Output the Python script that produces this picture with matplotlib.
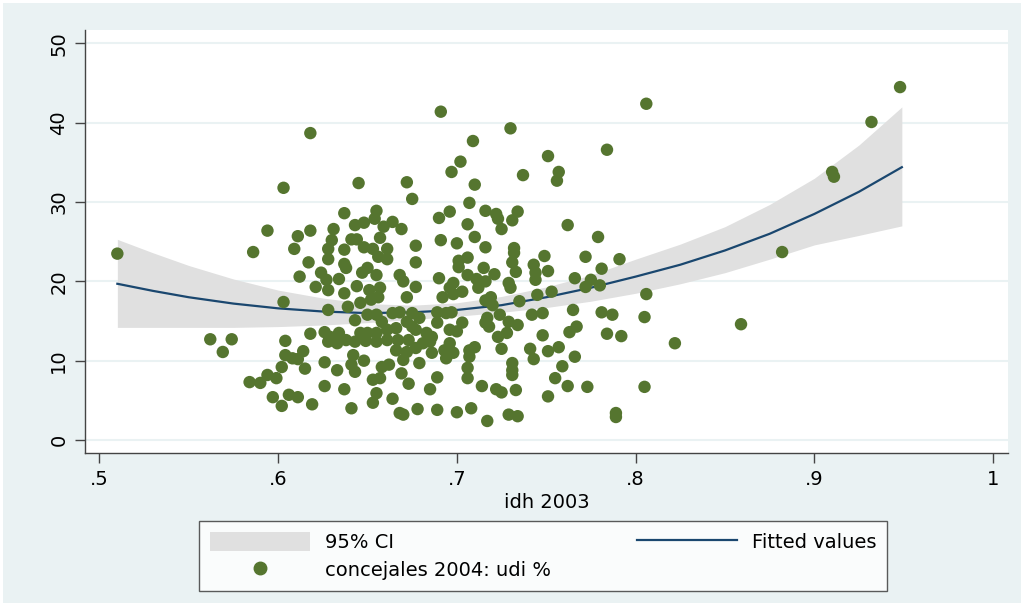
import numpy as np
import matplotlib
matplotlib.use("Agg")
import matplotlib.pyplot as plt
from matplotlib.patches import Rectangle, Patch
from matplotlib.lines import Line2D

plt.rcParams['font.family'] = ['DejaVu Sans']

# fitted values (quadratic fit) and its 95% CI
fit_x = [0.51, 0.53, 0.55, 0.575, 0.60, 0.625, 0.65, 0.675, 0.70, 0.725, 0.75,
         0.775, 0.80, 0.825, 0.85, 0.875, 0.90, 0.925, 0.949]
fit_y = [19.7, 18.8, 18.0, 17.2, 16.6, 16.2, 16.0, 16.1, 16.4, 17.0, 18.0,
         19.2, 20.6, 22.1, 23.9, 26.0, 28.5, 31.3, 34.4]
ci_hi = [25.3, 23.6, 22.0, 20.3, 18.9, 17.9, 17.2, 17.0, 17.3, 18.1, 19.3,
         20.8, 22.8, 24.7, 26.9, 29.7, 33.0, 37.2, 42.0]
ci_lo = [14.2, 14.2, 14.2, 14.2, 14.3, 14.5, 14.8, 15.2, 15.6, 16.1, 16.7,
         17.5, 18.5, 19.7, 21.1, 22.8, 24.6, 25.8, 27.0]

# scatter: idh 2003 vs concejales 2004 udi %
idh = [
    .603, .645, .672, .675, .637, .655, .654, .643, .648, .659, .664, .669, .631, .618, .611,
    .594, .586, .609, .630, .641, .644, .657, .628, .637, .648, .653, .661, .656, .661, .617,
    .628, .637, .677, .677, .650, .612, .624, .638, .621, .627, .634, .644, .655, .647, .668,
    .670, .628, .637, .651, .657, .656, .603, .672, .677, .618, .510,
    .691, .730, .806, .709, .784, .751, .757, .756, .737, .702, .697, .710, .762, .779, .791,
    .772, .781, .766, .775, .780, .806,
    .707, .696, .690, .716, .722, .723, .734, .731, .725, .706, .691, .700, .710, .716, .732,
    .732, .701, .706, .701, .715, .731, .749, .743, .721, .733, .744, .751, .744, .690, .706,
    .711, .716, .698, .712, .729, .730, .696, .703, .745, .753, .772, .692, .719,
    .720, .735, .716, .698,
    .628, .639, .646, .652, .650, .655, .643, .658, .664, .668, .672, .675, .675, .661, .666,
    .618, .626, .629, .634, .633, .628, .638, .643, .646, .650, .649, .655, .655, .661, .667,
    .666, .672, .673, .677, .604, .614, .604, .608, .611, .602, .615, .594, .599, .584, .590,
    .626, .642, .648, .641, .643, .633, .658, .662, .669, .657, .653, .670, .626, .637, .597,
    .606, .611, .602, .619, .641, .655, .653, .664, .668, .670, .673, .678, .679,
    .679, .677, .683, .686, .685, .681, .689, .694, .697, .689, .696, .700, .703, .686, .693,
    .696, .694, .698, .707, .710, .707, .689, .685, .706, .706, .714, .722, .725, .733, .725,
    .731, .731, .731, .717, .718, .723, .724, .728, .729, .734, .716, .742, .748, .748, .741,
    .743, .751, .757, .759, .755, .762, .751, .766, .765, .763, .767, .773, .689, .700, .708,
    .717, .729, .734,
    .781, .787, .805, .784, .792, .805, .789, .789, .822,
    .562, .574, .569,
    .948, .932, .910, .911, .882, .859,
]
udi = [
    31.8, 32.4, 32.5, 30.4, 28.6, 28.9, 27.9, 27.1, 27.4, 26.9, 27.5, 26.6, 26.6, 26.4, 25.7,
    26.4, 23.7, 24.1, 25.2, 25.3, 25.3, 25.5, 24.1, 24.0, 24.3, 24.1, 24.1, 23.1, 22.8, 22.4,
    22.8, 22.2, 24.5, 22.4, 21.7, 20.6, 21.1, 21.7, 19.3, 20.2, 20.3, 19.4, 20.8, 21.1, 20.8,
    20.0, 18.9, 18.5, 18.9, 19.2, 18.0, 17.4, 18.0, 19.3, 38.7, 23.5,
    41.4, 39.3, 42.4, 37.7, 36.6, 35.8, 33.8, 32.7, 33.4, 35.1, 33.8, 32.2, 27.1, 25.6, 22.8,
    23.1, 21.6, 20.4, 20.2, 19.5, 18.4,
    29.9, 28.8, 28.0, 28.9, 28.5, 27.9, 28.8, 27.7, 26.6, 27.2, 25.2, 24.8, 25.6, 24.3, 24.2,
    23.6, 22.6, 23.0, 21.8, 21.7, 22.4, 23.2, 22.1, 20.9, 21.2, 21.1, 21.3, 20.2, 20.4, 20.8,
    20.3, 20.0, 19.8, 19.2, 19.8, 19.2, 19.2, 18.7, 18.3, 18.7, 19.3, 18.0, 18.0,
    17.0, 17.5, 17.6, 18.4,
    16.4, 16.8, 17.3, 17.7, 15.8, 15.8, 15.1, 14.9, 16.0, 16.1, 14.9, 16.0, 14.3, 13.9, 14.1,
    13.4, 13.6, 13.0, 13.5, 12.2, 12.4, 12.6, 12.4, 13.5, 13.5, 12.5, 12.4, 13.5, 12.6, 12.6,
    11.3, 11.1, 12.6, 11.6, 12.5, 11.2, 10.7, 10.3, 10.2, 9.2, 9.0, 8.2, 7.8, 7.3, 7.2,
    9.8, 10.7, 10.0, 9.5, 8.6, 8.8, 9.2, 9.5, 8.4, 7.8, 7.6, 10.1, 6.8, 6.4, 5.4,
    5.7, 5.4, 4.3, 4.5, 4.0, 5.9, 4.7, 5.2, 3.4, 3.2, 7.1, 3.9, 9.7,
    15.4, 13.9, 13.5, 13.0, 12.4, 12.2, 16.1, 16.0, 16.1, 14.8, 13.9, 13.7, 14.8, 11.0, 11.3,
    12.2, 10.3, 11.0, 11.3, 11.7, 10.5, 7.9, 6.4, 9.1, 7.8, 6.8, 6.4, 6.0, 6.3, 11.5,
    9.7, 8.8, 8.2, 15.4, 14.3, 13.0, 15.8, 13.5, 14.9, 14.5, 14.8, 15.8, 16.0, 13.2, 11.5,
    10.2, 11.2, 11.7, 9.3, 7.8, 6.8, 5.5, 10.5, 16.4, 13.6, 14.3, 6.7, 3.8, 3.5, 4.0,
    2.4, 3.2, 3.0,
    16.1, 15.8, 15.5, 13.4, 13.1, 6.7, 3.4, 2.9, 12.2,
    12.7, 12.7, 11.1,
    44.5, 40.1, 33.8, 33.2, 23.7, 14.6,
]

xticks = [0.5, 0.6, 0.7, 0.8, 0.9, 1.0]
xticklabels = ['.5', '.6', '.7', '.8', '.9', '1']
yticks = [0, 10, 20, 30, 40, 50]

bg = '#EAF2F3'
green = '#55752F'
navy = '#1A476F'
cigray = '#E0E0E0'

fig = plt.figure(figsize=(10.24, 6.11), dpi=100, facecolor='white')
fig.patches.append(Rectangle((3/1024, 8/611), 1018/1024, 600/611, transform=fig.transFigure,
                             facecolor=bg, edgecolor='none', zorder=-10))

ax = fig.add_axes([85/1024, 1 - 453/611, 923/1024, 423/611])
ax.set_facecolor('white')

ax.fill_between(fit_x, ci_lo, ci_hi, color=cigray, linewidth=0, zorder=1)
ax.plot(fit_x, fit_y, color=navy, linewidth=1.6, zorder=2)
ax.scatter(idh, udi, s=80, color=green, edgecolors='none', zorder=3)

ax.set_xlim(0.4919, 1.0084)
ax.set_ylim(-1.64, 51.7)
ax.set_xticks(xticks)
ax.set_xticklabels(xticklabels)
ax.set_yticks(yticks)
ax.set_yticklabels([str(v) for v in yticks], rotation=90, va='center')
for y in yticks:
    ax.axhline(y, color=bg, linewidth=1.5, zorder=0)

for s in ['top', 'right']:
    ax.spines[s].set_visible(False)
for s in ['left', 'bottom']:
    ax.spines[s].set_color('#444444')
    ax.spines[s].set_linewidth(1.0)
ax.tick_params(axis='both', direction='out', length=7, width=1, color='#444444',
               labelsize=14, labelcolor='black', pad=5)
ax.set_xlabel('idh 2003', fontsize=14, labelpad=3)

handles = [Patch(facecolor=cigray, edgecolor='none'),
           Line2D([], [], marker='o', color=green, linestyle='none', markersize=9),
           Line2D([], [], color=navy, linewidth=1.6)]
labels = ['95% CI', 'concejales 2004: udi %', 'Fitted values']
leg = fig.legend(handles, labels, ncol=2, loc='center',
                 bbox_to_anchor=(543/1024, 55/611),
                 fontsize=14, frameon=True, fancybox=False, handlelength=5.15,
                 handleheight=1.15, handletextpad=0.77, labelspacing=0.4,
                 borderpad=0.55, borderaxespad=0, columnspacing=4.4)
leg.get_frame().set_edgecolor('#333333')
leg.get_frame().set_linewidth(1.0)

fig.savefig('out.png', dpi=100, facecolor=fig.get_facecolor())
